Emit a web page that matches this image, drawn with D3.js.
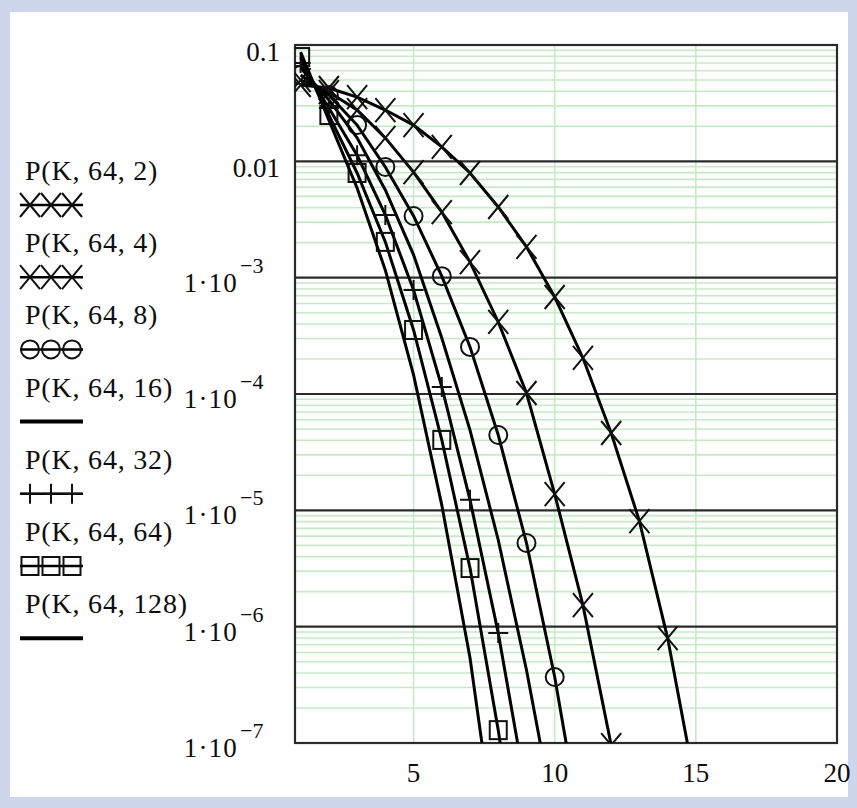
<!DOCTYPE html>
<html>
<head>
<meta charset="utf-8">
<script src="https://cdn.jsdelivr.net/npm/d3@7"></script>
<style>
  body { margin: 0; background: #cdd6ea; }
  text { font-family: "Liberation Serif", "Times New Roman", serif; fill: #0d0d0d; }
</style>
</head>
<body>
<div id="chart"></div>
<script>

// K on the x axis (index i of every series below is K = kValues[i])
var kValues = [1, 2, 3, 4, 5, 6, 7, 8, 9, 10, 11, 12, 13, 14, 15];

// P(K,64,n) values
var p_2   = [0.0453, 0.0427, 0.0357, 0.0276, 0.0205, 0.0133, 0.00794, 0.00405, 0.00184, 6.82e-4, 2.04e-4, 4.62e-5, 8.09e-6, 7.98e-7, 4.1e-8];
var p_4   = [0.0500, 0.0394, 0.0276, 0.0159, 0.00809, 0.00366, 0.00136, 4.16e-4, 1.02e-4, 1.38e-5, 1.53e-6, 9.6e-8, 4.5e-9];
var p_8   = [0.0552, 0.0372, 0.0205, 0.00894, 0.00339, 0.00103, 2.54e-4, 4.44e-5, 5.24e-6, 3.69e-7, 1.47e-8];
var p_16  = [0.0634, 0.0337, 0.0159, 0.00567, 0.00157, 3.03e-4, 4.90e-5, 5.56e-6, 4.24e-7, 2.2e-8];
var p_32  = [0.0700, 0.0287, 0.0113, 0.00346, 7.83e-4, 1.15e-4, 1.23e-5, 8.81e-7, 3.7e-8];
var p_64  = [0.0788, 0.0250, 0.00794, 0.00203, 3.55e-4, 4.03e-5, 3.19e-6, 1.29e-7, 3.0e-9];
var p_128 = [0.0871, 0.0226, 0.00590, 0.00116, 1.46e-4, 1.11e-5, 5.37e-7, 9.9e-9];

var seriesValues  = [p_2, p_4, p_8, p_16, p_32, p_64, p_128];
var seriesNames   = ["P(K, 64, 2)", "P(K, 64, 4)", "P(K, 64, 8)", "P(K, 64, 16)",
                     "P(K, 64, 32)", "P(K, 64, 64)", "P(K, 64, 128)"];
var seriesMarkers = ["x", "x", "o", "none", "+", "s", "none"];

// axis ticks
var xTicks = [5, 10, 15, 20];
var yTicks = [0.1, 0.01, 1e-3, 1e-4, 1e-5, 1e-6, 1e-7];
var yTickBase = ["0.1", "0.01", "1·10", "1·10", "1·10", "1·10", "1·10"];
var yTickExp  = ["", "", "−3", "−4", "−5", "−6", "−7"];

var params = {
    width: 857, height: 808,
    left: 295, right: 837, top: 45, bottom: 743,
    gridGreen: "#c4ebc4", gridDark: "#2b2b2b"
};

var svg = d3.select("#chart")
            .append("svg")
            .attr("width", params.width)
            .attr("height", params.height);

// frame
svg.append("rect")
    .attr("width", params.width).attr("height", params.height)
    .attr("fill", "#cdd6ea");
svg.append("rect")
    .attr("x", 10).attr("y", 12)
    .attr("width", 838).attr("height", 785)
    .attr("fill", "#ffffff");

var x = d3.scaleLinear().domain([0.8, 20]).range([params.left, params.right]);
var y = d3.scaleLog().domain([1e-7, 0.1]).range([params.bottom, params.top]);

// minor log grid (2..9 in every decade), light green
var minorTicks = y.ticks().filter(function(t) {
    var m = Math.round(t / Math.pow(10, Math.floor(Math.log10(t) + 1e-9)));
    return m !== 1;
});

svg.append("g")
    .selectAll("line")
    .data(minorTicks).enter()
    .append("line")
        .attr("x1", params.left).attr("x2", params.right)
        .attr("y1", function(d) { return y(d); })
        .attr("y2", function(d) { return y(d); })
        .attr("stroke", params.gridGreen)
        .attr("stroke-width", 1.6);

// vertical grid
svg.append("g")
    .selectAll("line")
    .data(xTicks.slice(0, 3)).enter()
    .append("line")
        .attr("x1", function(d) { return x(d); })
        .attr("x2", function(d) { return x(d); })
        .attr("y1", params.top).attr("y2", params.bottom)
        .attr("stroke", params.gridGreen)
        .attr("stroke-width", 1.6);

// decade lines
svg.append("g")
    .selectAll("line")
    .data(yTicks.slice(1, 6)).enter()
    .append("line")
        .attr("x1", params.left).attr("x2", params.right)
        .attr("y1", function(d) { return y(d); })
        .attr("y2", function(d) { return y(d); })
        .attr("stroke", params.gridDark)
        .attr("stroke-width", 2.2);

// plot border
svg.append("rect")
    .attr("x", params.left).attr("y", params.top)
    .attr("width", params.right - params.left)
    .attr("height", params.bottom - params.top)
    .attr("fill", "none")
    .attr("stroke", params.gridDark)
    .attr("stroke-width", 2.2);

// clip for curves
svg.append("clipPath").attr("id", "plotclip")
    .append("rect")
        .attr("x", params.left).attr("y", params.top)
        .attr("width", params.right - params.left)
        .attr("height", params.bottom - params.top);

var plot = svg.append("g").attr("clip-path", "url(#plotclip)");

var line = d3.line()
    .x(function(d) { return x(d.k); })
    .y(function(d) { return y(d.p); });

function drawMarker(g, type, cx, cy) {
    if (type === "x") {
        g.append("path")
            .attr("d", "M" + (cx - 10) + "," + (cy - 12) + "L" + (cx + 10) + "," + (cy + 12) +
                       "M" + (cx - 10) + "," + (cy + 12) + "L" + (cx + 10) + "," + (cy - 12))
            .attr("stroke", "#111").attr("stroke-width", 2).attr("fill", "none");
    } else if (type === "o") {
        g.append("circle")
            .attr("cx", cx).attr("cy", cy).attr("r", 9)
            .attr("stroke", "#111").attr("stroke-width", 2).attr("fill", "none");
    } else if (type === "+") {
        g.append("path")
            .attr("d", "M" + (cx - 10) + "," + cy + "L" + (cx + 10) + "," + cy +
                       "M" + cx + "," + (cy - 10) + "L" + cx + "," + (cy + 10))
            .attr("stroke", "#111").attr("stroke-width", 2).attr("fill", "none");
    } else if (type === "s") {
        g.append("rect")
            .attr("x", cx - 8.5).attr("y", cy - 9).attr("width", 17).attr("height", 18)
            .attr("stroke", "#111").attr("stroke-width", 2).attr("fill", "none");
    }
}

seriesValues.forEach(function(vals, i) {
    var data = vals.map(function(p, j) { return { k: kValues[j], p: p }; });

    plot.append("path")
        .datum(data)
        .attr("d", line)
        .attr("fill", "none")
        .attr("stroke", "#000")
        .attr("stroke-width", 3);

    data.forEach(function(d) {
        drawMarker(plot, seriesMarkers[i], x(d.k), y(d.p));
    });
});

// y tick labels
yTicks.forEach(function(t, i) {
    var gy = y(t);
    if (yTickExp[i] === "") {
        svg.append("text")
            .attr("x", 280).attr("y", gy + 16)
            .attr("text-anchor", "end")
            .style("font-size", "27px")
            .text(yTickBase[i]);
    } else {
        svg.append("text")
            .attr("x", 238).attr("y", gy + 14)
            .attr("text-anchor", "end")
            .style("font-size", "27px")
            .style("letter-spacing", "1.2px")
            .text(yTickBase[i]);
        svg.append("text")
            .attr("x", 240).attr("y", gy - 5)
            .style("font-size", "22px")
            .text(yTickExp[i]);
    }
});

// x tick labels
svg.append("g")
    .selectAll("text")
    .data(xTicks).enter()
    .append("text")
        .attr("x", function(d) { return x(d); })
        .attr("y", 782)
        .attr("text-anchor", "middle")
        .style("font-size", "27px")
        .text(function(d) { return d; });

// legend on the left
var legend = svg.selectAll(".legend")
    .data(seriesNames).enter()
    .append("g")
        .attr("class", "legend")
        .attr("transform", function(d, i) { return "translate(0," + (180 + i * 72.2) + ")"; });

legend.append("text")
    .attr("x", 25).attr("y", 0)
    .style("font-size", "28px")
    .style("letter-spacing", "0.8px")
    .text(function(d) { return d; });

legend.each(function(d, i) {
    var g = d3.select(this);
    var solid = seriesMarkers[i] === "none";
    g.append("line")
        .attr("x1", 20).attr("x2", 83)
        .attr("y1", 25).attr("y2", 25)
        .attr("stroke", "#000")
        .attr("stroke-width", solid ? 4 : 2.5);
    [30, 51, 72].forEach(function(cx) {
        drawMarker(g, seriesMarkers[i], cx, 25);
    });
});

</script>
</body>
</html>
